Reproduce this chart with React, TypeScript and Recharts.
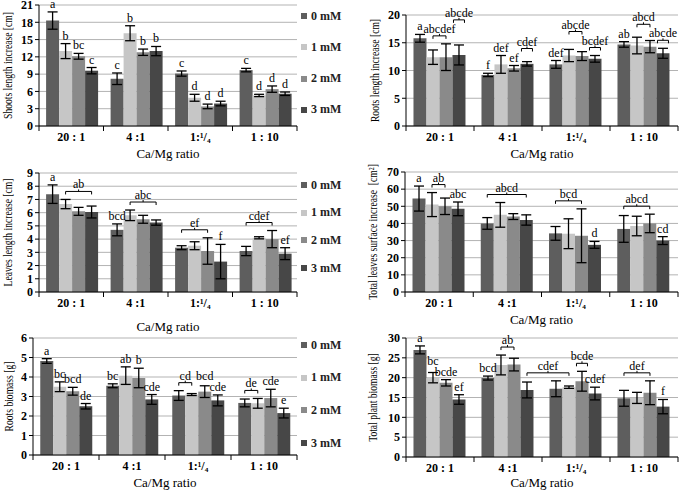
import React from 'react';
import { BarChart, Bar, XAxis, YAxis, CartesianGrid, ErrorBar, LabelList } from 'recharts';

const FONT = '"Liberation Serif", "Times New Roman", serif';

const categories = ['20 : 1', '4 :1', '1:¹/₄', '1 : 10'];
const seriesNames = ['0 mM', '1 mM', '2 mM', '3 mM'];
const seriesColors = ['#5e5e5e', '#c6c6c6', '#8a8a8a', '#474747'];

type Letter = [number, number, string];
type Brace = [number, number, number, number, string];

// rows = series (0..3 mM), columns = Ca/Mg ratio
const shootsMean = [
  [18.3, 8.2, 9.1, 9.7],
  [13.0, 16.1, 4.9, 5.3],
  [12.1, 12.8, 3.4, 6.4],
  [9.6, 13.0, 3.9, 5.6],
];
const shootsErr = [
  [1.5, 1.0, 0.45, 0.3],
  [1.3, 1.3, 0.6, 0.2],
  [0.5, 0.55, 0.4, 0.55],
  [0.55, 0.8, 0.4, 0.3],
];
const shootsTicks = [0, 3, 6, 9, 12, 15, 18, 21];
const shootsLetters: Letter[] = [
  [0, 0, 'a'], [0, 1, 'b'], [0, 2, 'bc'], [0, 3, 'c'],
  [1, 0, 'c'], [1, 1, 'b'], [1, 2, 'b'], [1, 3, 'b'],
  [2, 0, 'c'], [2, 1, 'd'], [2, 2, 'd'], [2, 3, 'd'],
  [3, 0, 'c'], [3, 1, 'd'], [3, 2, 'd'], [3, 3, 'd'],
];
const shootsBraces: Brace[] = [];

const rootsLenMean = [
  [15.8, 9.2, 11.1, 14.7],
  [12.4, 11.1, 12.7, 14.5],
  [12.4, 10.4, 12.6, 14.3],
  [12.8, 11.2, 12.1, 13.1],
];
const rootsLenErr = [
  [0.7, 0.3, 0.7, 0.5],
  [1.3, 1.6, 1.1, 1.5],
  [2.4, 0.5, 0.8, 1.1],
  [1.8, 0.4, 0.6, 0.9],
];
const rootsLenTicks = [0, 5, 10, 15, 20];
const rootsLenLetters: Letter[] = [
  [0, 0, 'a'], [1, 0, 'f'], [1, 1, 'def'], [1, 2, 'ef'], [2, 0, 'def'], [3, 0, 'ab'],
];
// earlier entries keep their place, later ones are lifted when they collide
const rootsLenBraces: Brace[] = [
  [0, 1, 0, 2, 'abcdef'], [0, 3, 0, 3, 'abcde'], [1, 3, 1, 3, 'cdef'],
  [2, 3, 2, 3, 'bcdef'], [2, 1, 2, 2, 'abcde'], [3, 3, 3, 3, 'abcde'], [3, 1, 3, 2, 'abcd'],
];

const leavesMean = [
  [7.4, 4.7, 3.35, 3.1],
  [6.65, 5.8, 3.5, 4.1],
  [6.1, 5.5, 3.1, 4.0],
  [6.05, 5.25, 2.3, 2.9],
];
const leavesErr = [
  [0.7, 0.45, 0.15, 0.35],
  [0.35, 0.4, 0.3, 0.08],
  [0.3, 0.3, 1.0, 0.65],
  [0.45, 0.2, 1.3, 0.45],
];
const leavesTicks = [0, 1, 2, 3, 4, 5, 6, 7, 8, 9];
const leavesLetters: Letter[] = [[0, 0, 'a'], [1, 0, 'bcd'], [2, 3, 'f'], [3, 3, 'ef']];
const leavesBraces: Brace[] = [
  [0, 1, 0, 3, 'ab'], [1, 1, 1, 3, 'abc'], [2, 0, 2, 2, 'ef'], [3, 0, 3, 2, 'cdef'],
];

const surfaceMean = [
  [54.5, 40, 34.2, 36.8],
  [51, 45, 34, 38.5],
  [50, 44, 32.8, 40],
  [48.5, 42, 27.5, 30],
];
const surfaceErr = [
  [7.3, 3.4, 4, 7.8],
  [7, 7.2, 8.7, 5.7],
  [4.8, 1.7, 15.7, 5.4],
  [4, 3, 2, 2.3],
];
const surfaceTicks = [0, 10, 20, 30, 40, 50, 60, 70];
const surfaceLetters: Letter[] = [[0, 0, 'a'], [0, 3, 'abc'], [2, 3, 'd'], [3, 3, 'cd']];
const surfaceBraces: Brace[] = [
  [0, 1, 0, 2, 'ab'], [1, 0, 1, 3, 'abcd'], [2, 0, 2, 2, 'bcd'], [3, 0, 3, 2, 'abcd'],
];

const rootsMassMean = [
  [4.82, 3.55, 3.05, 2.67],
  [3.5, 4.07, 3.1, 2.65],
  [3.27, 3.95, 3.25, 2.92],
  [2.5, 2.85, 2.8, 2.15],
];
const rootsMassErr = [
  [0.12, 0.1, 0.25, 0.2],
  [0.25, 0.45, 0.05, 0.25],
  [0.2, 0.5, 0.3, 0.45],
  [0.14, 0.25, 0.28, 0.25],
];
const rootsMassTicks = [0, 1, 2, 3, 4, 5, 6];
const rootsMassLetters: Letter[] = [
  [0, 0, 'a'], [0, 3, 'de'], [0, 2, 'bcd'], [0, 1, 'bc'],
  [1, 0, 'bc'], [1, 1, 'ab'], [1, 2, 'b'], [1, 3, 'cde'],
  [2, 3, 'cde'], [2, 2, 'bcd'], [3, 3, 'e'], [3, 2, 'cde'],
];
const rootsMassBraces: Brace[] = [[2, 0, 2, 1, 'cd'], [3, 0, 3, 1, 'de']];

const plantMassMean = [
  [27, 19.9, 17.2, 14.8],
  [20, 23.2, 17.6, 14.9],
  [18.7, 23.3, 19.1, 16.2],
  [14.5, 16.9, 16, 12.7],
];
const plantMassErr = [
  [1, 0.5, 2, 2],
  [1.3, 2.5, 0.3, 1.4],
  [0.8, 1.6, 2.5, 3],
  [1.2, 2, 1.6, 1.8],
];
const plantMassTicks = [0, 5, 10, 15, 20, 25, 30];
const plantMassLetters: Letter[] = [
  [0, 0, 'a'], [0, 3, 'ef'], [0, 2, 'bcde'], [0, 1, 'bc'], [1, 0, 'bcd'], [2, 3, 'cdef'], [3, 3, 'f'],
];
const plantMassBraces: Brace[] = [
  [1, 1, 1, 2, 'ab'], [1, 3, 2, 1, 'cdef'], [2, 2, 2, 2, 'bcde'], [3, 0, 3, 2, 'def'],
];

interface PanelSpec {
  yTitle: string;
  mean: number[][];
  err: number[][];
  ticks: number[];
  letters: Letter[];
  braces: Brace[];
  left: number;
  top: number;
  axisX: number;
  plotTop: number;
  plotBottom: number;
  plotRight: number;
  yTitleX: number;
  xTitleDy: number;
  legend?: [number, number];
}

const panels: PanelSpec[] = [
  { yTitle: 'Shoots length increase [cm]', mean: shootsMean, err: shootsErr, ticks: shootsTicks,
    letters: shootsLetters, braces: shootsBraces,
    left: 0, top: 0, axisX: 39, plotTop: 5, plotBottom: 126, plotRight: 297, yTitleX: 8, xTitleDy: 28, legend: [16, 31.3] },
  { yTitle: 'Roots length increase [cm]', mean: rootsLenMean, err: rootsLenErr, ticks: rootsLenTicks,
    letters: rootsLenLetters, braces: rootsLenBraces,
    left: 345, top: 0, axisX: 406, plotTop: 15, plotBottom: 126, plotRight: 678, yTitleX: 375, xTitleDy: 28 },
  { yTitle: 'Leaves length increase [cm]', mean: leavesMean, err: leavesErr, ticks: leavesTicks,
    letters: leavesLetters, braces: leavesBraces,
    left: 0, top: 160, axisX: 39, plotTop: 173, plotBottom: 292, plotRight: 297, yTitleX: 8, xTitleDy: 35, legend: [185, 27.7] },
  { yTitle: 'Total leaves surface increase\u00a0 [cm²]', mean: surfaceMean, err: surfaceErr, ticks: surfaceTicks,
    letters: surfaceLetters, braces: surfaceBraces,
    left: 345, top: 160, axisX: 405, plotTop: 172, plotBottom: 292, plotRight: 678, yTitleX: 373, xTitleDy: 28 },
  { yTitle: 'Roots biomass [g]', mean: rootsMassMean, err: rootsMassErr, ticks: rootsMassTicks,
    letters: rootsMassLetters, braces: rootsMassBraces,
    left: 0, top: 320, axisX: 33, plotTop: 338, plotBottom: 455, plotRight: 297, yTitleX: 9, xTitleDy: 28, legend: [345, 32.7] },
  { yTitle: 'Total plant biomass [g]', mean: plantMassMean, err: plantMassErr, ticks: plantMassTicks,
    letters: plantMassLetters, braces: plantMassBraces,
    left: 345, top: 320, axisX: 406, plotTop: 338, plotBottom: 457, plotRight: 678, yTitleX: 373, xTitleDy: 26 },
];

const PAD = 10;

const XTick = (props: any) => {
  const { x, y, payload, index, band } = props;
  return (
    <g>
      {index === 0 && <line x1={x - band / 2} y1={y} x2={x - band / 2} y2={y + 5} stroke="#000" />}
      <line x1={x + band / 2} y1={y} x2={x + band / 2} y2={y + 5} stroke="#000" />
      <text x={x} y={y + 15} textAnchor="middle" fontFamily={FONT} fontSize={12} fontWeight="bold" fill="#000">
        {payload.value}
      </text>
    </g>
  );
};

interface Placed {
  c: number;
  t: string;
  xm: number;
  ty: number;
  xa?: number;
  xb?: number;
}

const Panel: React.FC<{ p: PanelSpec }> = ({ p }) => {
  const rows = categories.map((cat, c) => {
    const r: Record<string, string | number> = { cat };
    p.mean.forEach((m, s) => {
      r[`v${s}`] = m[c];
      r[`e${s}`] = p.err[s][c];
    });
    return r;
  });
  const xAxisH = 46;
  const width = p.plotRight + 3 - p.left;
  const height = p.plotBottom - p.top + xAxisH + PAD;
  const band = (p.plotRight - p.axisX) / categories.length;
  const last = p.mean.length - 1;

  // letters and braces are drawn from the last series so they sit above every bar
  const renderAnno = (props: any) => {
    const vb = props.viewBox || props;
    const c = typeof props.index === 'number' ? props.index : p.mean[last].indexOf(Number(props.value));
    const x = Number(vb.x ?? props.x);
    const y = Number(vb.y ?? props.y);
    const w = Number(vb.width ?? props.width);
    const h = Number(vb.height ?? props.height);
    if (!isFinite(x) || c < 0) return null;
    const zero = Math.max(y, y + h);
    const k = Math.abs(h) / p.mean[last][c];
    const py = (v: number) => zero - v * k;
    const bx = (cc: number, s: number) => x + (cc - c) * band - (last - s) * w;
    const topOf = (cc: number, s: number) => py(p.mean[s][cc] + p.err[s][cc]);

    const boxes: [number, number, number, number][] = [];
    const hits = (x0: number, x1: number, y0: number, y1: number) =>
      boxes.find((b) => x0 < b[1] && x1 > b[0] && y0 < b[3] && y1 > b[2]);
    const place = (xm: number, half: number, ty: number, xa?: number, xb?: number) => {
      for (let n = 0; n < 12; n++) {
        const lo = Math.min(xa ?? xm - half, xm - half);
        const hi = Math.max(xb ?? xm + half, xm + half);
        const b = hits(lo, hi, ty - 9, ty + (xa !== undefined ? 6 : 1));
        if (!b) break;
        ty = b[2] - (xa !== undefined ? 7 : 2);
      }
      boxes.push([xm - half, xm + half, ty - 9, ty + 1]);
      if (xa !== undefined && xb !== undefined) boxes.push([xa, xb, ty + 1, ty + 6]);
      return ty;
    };

    const placed: Placed[] = [];
    p.letters.forEach(([cc, s, t]) => {
      const xm = bx(cc, s) + w / 2;
      const ty = place(xm, t.length * 2.6, topOf(cc, s) - 4);
      placed.push({ c: cc, t, xm, ty });
    });
    p.braces.forEach(([c1, s1, c2, s2, t]) => {
      let hi = Infinity;
      for (let f = c1 * 4 + s1; f <= c2 * 4 + s2; f++) hi = Math.min(hi, topOf(Math.floor(f / 4), f % 4));
      const single = c1 === c2 && s1 === s2;
      const xa = single ? bx(c1, s1) + 1 : bx(c1, s1) + w / 2;
      const xb = single ? bx(c2, s2) + w - 1 : bx(c2, s2) + w / 2;
      const xm = (xa + xb) / 2;
      const ty = place(xm, t.length * 2.6, hi - 8 - 3, xa, xb);
      placed.push({ c: c1, t, xm, ty, xa, xb });
    });

    return (
      <g>
        {placed
          .filter((a) => a.c === c)
          .map((a, i) => {
            if (a.xa === undefined || a.xb === undefined) {
              return (
                <text key={i} x={a.xm} y={a.ty} textAnchor="middle" fontFamily={FONT} fontSize={12} fill="#000">
                  {a.t}
                </text>
              );
            }
            const ly = a.ty + 3;
            return (
              <g key={i}>
                <path d={`M${a.xa},${ly + 3}V${ly}H${a.xb}V${ly + 3}`} fill="none" stroke="#000" strokeWidth={1} />
                <line x1={a.xm} y1={ly} x2={a.xm} y2={ly - 2} stroke="#000" />
                <text x={a.xm} y={a.ty} textAnchor="middle" fontFamily={FONT} fontSize={12} fill="#000">
                  {a.t}
                </text>
              </g>
            );
          })}
      </g>
    );
  };

  const yTitle = () => (
    <text
      transform={`translate(${p.yTitleX - p.left},${(p.plotTop + p.plotBottom) / 2 - p.top + PAD}) rotate(-90) scale(0.8,1)`}
      textAnchor="middle" dominantBaseline="central" fontFamily={FONT} fontSize={12} fill="#000"
    >
      {p.yTitle}
    </text>
  );
  const xTitle = () => (
    <text x={(p.axisX + p.plotRight) / 2 - p.left} y={p.plotBottom - p.top + PAD + p.xTitleDy + 4}
      textAnchor="middle" fontFamily={FONT} fontSize={13} fill="#000">
      Ca/Mg ratio
    </text>
  );

  return (
    <div style={{ position: 'absolute', left: p.left, top: p.top - PAD, width, height }}>
      <BarChart
        width={width}
        height={height}
        data={rows}
        margin={{ top: p.plotTop - p.top + PAD, right: 3, left: 0, bottom: 0 }}
        barCategoryGap="11%"
        barGap={0}
      >
        <CartesianGrid vertical={false} stroke="#b3b3b3" />
        <XAxis
          dataKey="cat"
          height={xAxisH}
          interval={0}
          tickLine={false}
          tickSize={0}
          tickMargin={0}
          axisLine={{ stroke: '#000' }}
          tick={(tp: any) => <XTick {...tp} band={band} />}
          label={xTitle}
        />
        <YAxis
          width={p.axisX - p.left}
          domain={[0, p.ticks[p.ticks.length - 1]]}
          ticks={p.ticks}
          interval={0}
          tickSize={4}
          axisLine={{ stroke: '#000' }}
          tickLine={{ stroke: '#000' }}
          tick={{ fontSize: 12, fontWeight: 'bold', fill: '#000', fontFamily: FONT }}
          label={yTitle}
        />
        {p.mean.map((_, s) => (
          <Bar key={s} dataKey={`v${s}`} name={seriesNames[s]} fill={seriesColors[s]} isAnimationActive={false}>
            <ErrorBar dataKey={`e${s}`} width={5} stroke="#000" strokeWidth={1.3} direction="y" isAnimationActive={false} />
            {s === last && <LabelList dataKey={`v${s}`} content={renderAnno} />}
          </Bar>
        ))}
      </BarChart>
      {p.legend &&
        seriesNames.map((n, s) => (
          <div
            key={n}
            style={{
              position: 'absolute', left: 301 - p.left, top: p.legend![0] + s * p.legend![1] - p.top + PAD - 8,
              height: 16, display: 'flex', alignItems: 'center', fontFamily: FONT, fontSize: 12,
              fontWeight: 'bold', color: '#222', whiteSpace: 'nowrap',
            }}
          >
            <span style={{ display: 'inline-block', width: 6, height: 6, background: seriesColors[s], marginRight: 4 }} />
            {n}
          </div>
        ))}
    </div>
  );
}

export default function App() {
  return (
    <div style={{ position: 'absolute', left: 0, top: 0, width: 685, height: 491, background: '#fff', overflow: 'hidden' }}>
      {panels.map((p) => (
        <Panel key={p.yTitle} p={p} />
      ))}
    </div>
  );
}
